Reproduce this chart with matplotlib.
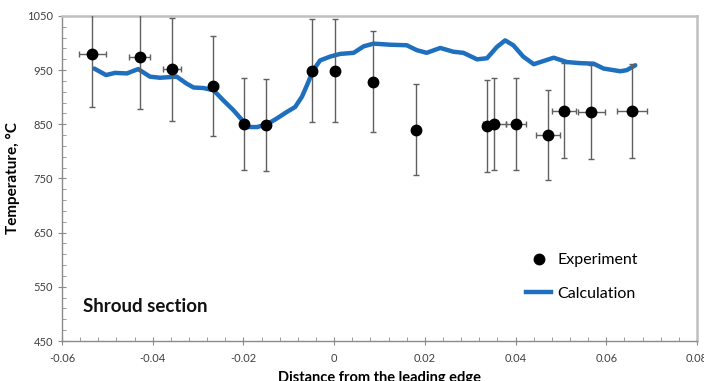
import matplotlib.pyplot as plt
from matplotlib.lines import Line2D
from matplotlib.ticker import MultipleLocator, FuncFormatter

plt.rcParams['font.family'] = ['Lato', 'DejaVu Sans']

# experiment points
exp_x = [-0.0533, -0.0429, -0.0358, -0.0266, -0.0198, -0.0150, -0.0049, 0.0002,
         0.0086, 0.0181, 0.0337, 0.0353, 0.0402, 0.0472, 0.0507, 0.0567, 0.0657]
exp_t = [980, 975, 952, 921, 851, 848, 949, 949,
         929, 840, 847, 851, 850, 830, 875, 873, 874]
exp_terr = [98, 97, 95, 92, 85, 85, 95, 95,
            93, 84, 85, 85, 85, 83, 88, 87, 87]
exp_xerr = [0.0029, 0.0024, 0.0020, 0.0010, 0.0, 0.0, 0.0, 0.0,
            0.0, 0.0, 0.0, 0.0025, 0.0022, 0.0026, 0.0026, 0.0030, 0.0033]

# calculation curve
calc_x = [-0.0529, -0.0503, -0.0483, -0.0457, -0.0432, -0.0406, -0.0384, -0.0347,
          -0.0325, -0.0310, -0.0288, -0.0266, -0.0244, -0.0222, -0.0203, -0.0189,
          -0.0170, -0.0148, -0.0126, -0.0104, -0.0086, -0.0071, -0.0060, -0.0046,
          -0.0031, -0.0009, 0.0013, 0.0043, 0.0065, 0.0087, 0.0123, 0.0160,
          0.0182, 0.0204, 0.0234, 0.0263, 0.0285, 0.0315, 0.0337, 0.0359,
          0.0377, 0.0395, 0.0417, 0.0440, 0.0462, 0.0484, 0.0513, 0.0542,
          0.0572, 0.0594, 0.0631, 0.0645, 0.0664]
calc_t = [953, 941, 945, 944, 952, 938, 936, 938,
          925, 918, 917, 913, 894, 876, 858, 845,
          845, 850, 861, 873, 882, 901, 922, 950,
          968, 975, 980, 982, 994, 999, 997, 996,
          987, 982, 991, 984, 982, 970, 972, 993,
          1005, 996, 975, 961, 967, 973, 965, 963,
          962, 953, 948, 950, 959]

y_ticks = [450, 550, 650, 750, 850, 950, 1050]

fig = plt.figure(figsize=(7.04, 3.81), dpi=100)
ax = fig.add_axes([62 / 704, 1 - 341 / 381, (697 - 62) / 704, (341 - 16) / 381])

ax.plot(calc_x, calc_t, color='#1f6fbf', lw=3.2, solid_capstyle='round', zorder=2)
ax.errorbar(exp_x, exp_t, yerr=exp_terr, xerr=exp_xerr, fmt='o', color='black',
            ms=7.5, ecolor='#606060', elinewidth=1.0, capsize=2.2, capthick=1.0,
            zorder=3)

ax.set_xlim(-0.06, 0.08)
ax.set_ylim(450, 1050)
ax.xaxis.set_major_locator(MultipleLocator(0.02))
ax.xaxis.set_minor_locator(MultipleLocator(0.004))
ax.set_yticks(y_ticks)
ax.yaxis.set_minor_locator(MultipleLocator(20, offset=10))
ax.xaxis.set_major_formatter(FuncFormatter(lambda v, p: '0' if abs(v) < 1e-9 else f'{v:.2f}'))

for s in ['left', 'bottom']:
    ax.spines[s].set_color('#8a8a8a')
    ax.spines[s].set_linewidth(1.0)
for s in ['top', 'right']:
    ax.spines[s].set_color('#c0c0c0')
    ax.spines[s].set_linewidth(1.8)

ax.tick_params(which='major', direction='inout', length=6, color='#8a8a8a',
               labelsize=8, labelcolor='#404040', top=False, right=False)
ax.tick_params(which='minor', direction='in', length=3, color='#8a8a8a',
               top=False, right=False)
ax.tick_params(axis='x', pad=6)

ax.set_ylabel('Temperature, °C', fontsize=11, fontweight='bold', labelpad=5)
ax.set_xlabel('Distance from the leading edge', fontsize=10.5, fontweight='bold', labelpad=5)

ax.text(0.033, 0.09, 'Shroud section', transform=ax.transAxes, fontsize=13.5,
        fontweight='bold', color='#111111')

handles = [Line2D([], [], marker='o', ls='none', color='black', ms=7.5),
           Line2D([], [], color='#1f6fbf', lw=3.2)]
ax.legend(handles, ['Experiment', 'Calculation'], loc='lower right',
          bbox_to_anchor=(0.93, 0.08), frameon=False, fontsize=11.5,
          labelspacing=1.2, handlelength=1.6, handletextpad=0.4)

fig.savefig('out.png', dpi=100)
